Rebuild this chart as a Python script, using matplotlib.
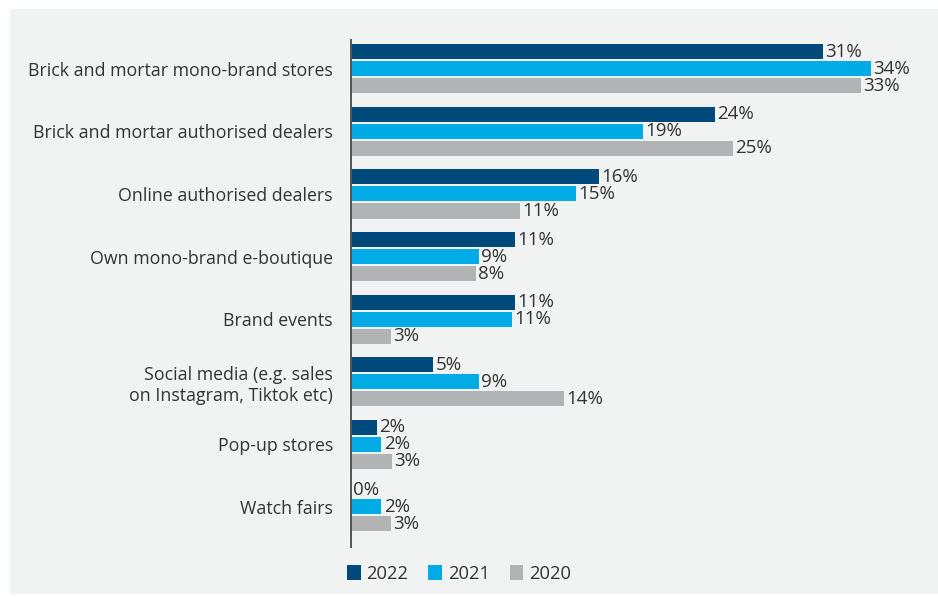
import matplotlib
matplotlib.use("Agg")
import matplotlib.pyplot as plt
from matplotlib.patches import Rectangle, Patch
import numpy as np

categories = [
    "Brick and mortar mono-brand stores",
    "Brick and mortar authorised dealers",
    "Online authorised dealers",
    "Own mono-brand e-boutique",
    "Brand events",
    "Social media (e.g. sales\non Instagram, Tiktok etc)",
    "Pop-up stores",
    "Watch fairs",
]
series_names = ["2022", "2021", "2020"]
# bar lengths (%)
v2022 = [31.0, 23.9, 16.3, 10.8, 10.8, 5.4, 1.7, 0.0]
v2021 = [34.2, 19.2, 14.8, 8.4, 10.6, 8.4, 2.0, 2.0]
v2020 = [33.5, 25.1, 11.1, 8.2, 2.6, 14.0, 2.7, 2.6]
# printed data labels
l2022 = ["31%", "24%", "16%", "11%", "11%", "5%", "2%", "0%"]
l2021 = ["34%", "19%", "15%", "9%", "11%", "9%", "2%", "2%"]
l2020 = ["33%", "25%", "11%", "8%", "3%", "14%", "3%", "3%"]
colors = ["#004A7B", "#00ABE6", "#B1B3B4"]

plt.rcParams['font.family'] = ['Open Sans', 'DejaVu Sans']
W, H = 938, 597
fig = plt.figure(figsize=(W / 100, H / 100), dpi=100)
fig.patch.set_facecolor("white")
# light gray panel
fig.add_artist(Rectangle((10 / W, 3 / H), (W - 10) / W, (H - 12) / H,
                         transform=fig.transFigure, facecolor="#F1F2F2",
                         edgecolor="none", zorder=-10))

ax = fig.add_axes([351 / W, 1 - 547 / H, (929 - 351) / W, (547 - 40) / H])
ax.set_facecolor("none")

y = np.arange(len(categories))
h = 0.24
off = 0.272
for i, (vals, labs, c) in enumerate(zip([v2022, v2021, v2020],
                                        [l2022, l2021, l2020], colors)):
    pos = y + (i - 1) * off
    ax.barh(pos, vals, height=h, color=c, label=series_names[i])
    for p, v, lab in zip(pos, vals, labs):
        ax.text(v + 0.15, p, lab, va="center", ha="left",
                fontsize=13.5, color="#333333")

ax.set_xlim(0, 38)
ax.set_ylim(7.64, -0.46)
ax.set_yticks(y)
ax.set_yticklabels(categories, fontsize=12.8, color="#333333", ha="right",
                   multialignment="right")
ax.tick_params(axis="y", length=0, pad=13)
ax.set_xticks([])
for s in ["top", "right", "bottom"]:
    ax.spines[s].set_visible(False)
ax.spines["left"].set_color("#555555")
ax.spines["left"].set_linewidth(1.4)

handles = [Patch(facecolor=c, edgecolor="none") for c in colors]
fig.legend(handles, series_names, loc="center", bbox_to_anchor=(459 / W, 1 - 574 / H),
           ncol=3, frameon=False, fontsize=13.2, handlelength=0.75, handleheight=0.85,
           handletextpad=0.3, columnspacing=1.1, labelcolor="#333333",
           borderpad=0, borderaxespad=0)

fig.savefig("out.png", dpi=100)
